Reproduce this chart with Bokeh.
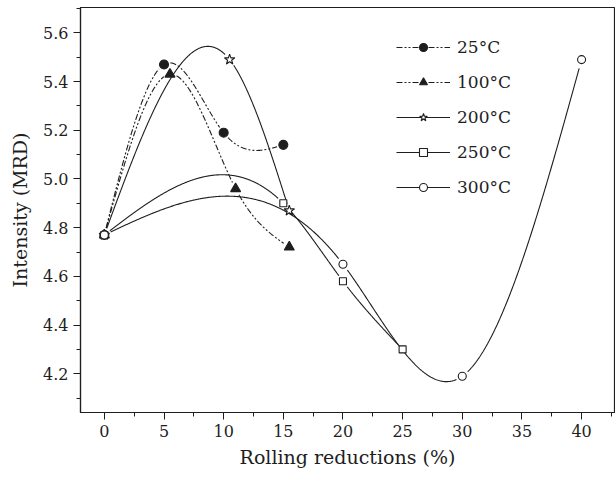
import numpy as np
from bokeh.plotting import figure
from bokeh.models import FixedTicker, Legend, LegendItem, Range1d
from bokeh.embed import file_html
from bokeh.resources import INLINE

# ---- data ----
x_25 = [0, 5, 10, 15]
y_25 = [4.77, 5.47, 5.19, 5.14]

x_100 = [0, 5.5, 11, 15.5]
y_100 = [4.77, 5.43, 4.96, 4.72]

x_200 = [0, 10.5, 15.5]
y_200 = [4.77, 5.49, 4.87]

x_250 = [0, 15, 20, 25]
y_250 = [4.77, 4.90, 4.58, 4.30]

x_300 = [0, 20, 30, 40]
y_300 = [4.77, 4.65, 4.19, 5.49]

series_labels = ["25°C", "100°C", "200°C", "250°C", "300°C"]

x_ticks = [0, 5, 10, 15, 20, 25, 30, 35, 40]
y_ticks = [4.2, 4.4, 4.6, 4.8, 5.0, 5.2, 5.4, 5.6]
y_tick_labels = ["4.2", "4.4", "4.6", "4.8", "5.0", "5.2", "5.4", "5.6"]

# ---- layout ----
W, H = 615, 477
BL, BR, BT, BB = 80, 1, 7, 65
X0, X1 = -2.0, 42.76
Y0, Y1 = 4.041, 5.704
FW, FH = W - BL - BR, H - BT - BB
SX, SY = FW / (X1 - X0), FH / (Y1 - Y0)

FONT = "DejaVu Serif"
INK = "#1e1e1e"


def natural_spline(xs, ys, n=600):
    x = np.asarray(xs, float)
    y = np.asarray(ys, float)
    m = len(x)
    h = np.diff(x)
    A = np.zeros((m, m))
    r = np.zeros(m)
    A[0, 0] = 1
    A[-1, -1] = 1
    for i in range(1, m - 1):
        A[i, i - 1] = h[i - 1]
        A[i, i] = 2 * (h[i - 1] + h[i])
        A[i, i + 1] = h[i]
        r[i] = 6 * ((y[i + 1] - y[i]) / h[i] - (y[i] - y[i - 1]) / h[i - 1])
    M = np.linalg.solve(A, r)
    xx = np.linspace(x[0], x[-1], n)
    k = np.clip(np.searchsorted(x, xx, side="right") - 1, 0, m - 2)
    xa, xb, hh = x[k], x[k + 1], h[k]
    yy = (M[k] * (xb - xx) ** 3 / (6 * hh) + M[k + 1] * (xx - xa) ** 3 / (6 * hh)
          + (y[k] / hh - M[k] * hh / 6) * (xb - xx)
          + (y[k + 1] / hh - M[k + 1] * hh / 6) * (xx - xa))
    # leave small gaps around the markers (as in the original)
    gap = 6.5
    mask = np.zeros_like(xx, dtype=bool)
    for px, py in zip(x, y):
        d = np.hypot((xx - px) * SX, (yy - py) * SY)
        mask |= d < gap
    yy = yy.copy()
    yy[mask] = np.nan
    return xx, yy


p = figure(width=W, height=H, output_backend="svg", toolbar_location=None,
           x_range=Range1d(X0, X1), y_range=Range1d(Y0, Y1),
           min_border_left=BL, min_border_right=BR,
           min_border_top=BT, min_border_bottom=BB)
p.xgrid.visible = False
p.ygrid.visible = False
p.outline_line_color = INK
p.outline_line_width = 1.2
p.background_fill_color = "white"
p.border_fill_color = "white"

p.xaxis.ticker = FixedTicker(ticks=x_ticks,
                             minor_ticks=[t + 2.5 for t in x_ticks])
p.yaxis.ticker = FixedTicker(ticks=y_ticks,
                             minor_ticks=[round(t - 0.1, 2) for t in y_ticks] + [5.7])
p.yaxis.major_label_overrides = {t: l for t, l in zip(y_ticks, y_tick_labels)}

for ax in (p.xaxis[0], p.yaxis[0]):
    ax.axis_line_color = INK
    ax.axis_line_width = 1.2
    ax.major_tick_line_color = INK
    ax.minor_tick_line_color = INK
    ax.major_tick_out = 7
    ax.major_tick_in = 0
    ax.minor_tick_out = 4
    ax.minor_tick_in = 0
    ax.major_label_text_font = FONT
    ax.major_label_text_font_size = "16px"
    ax.major_label_text_color = INK
    ax.axis_label_text_font = FONT
    ax.axis_label_text_font_size = "19px"
    ax.axis_label_text_font_style = "normal"
    ax.axis_label_text_color = INK
    ax.major_label_standoff = 5

p.xaxis.axis_label = "Rolling reductions (%)"
p.yaxis.axis_label = "Intensity (MRD)"
p.xaxis.axis_label_standoff = 6
p.yaxis.axis_label_standoff = 9

dashdotdot = "6 2 2 2 2 2"
series = [
    (x_25, y_25, dashdotdot, "circle", 9, INK),
    (x_100, y_100, dashdotdot, "triangle", 10, INK),
    (x_200, y_200, "solid", "star", 11, "white"),
    (x_250, y_250, "solid", "square", 7, "white"),
    (x_300, y_300, "solid", "circle", 8, "white"),
]

line_rs = []
for xs, ys, dash, mk, sz, fill in series:
    cx, cy = natural_spline(xs, ys)
    lr = p.line(cx, cy, line_color=INK, line_width=1.1, line_dash=dash)
    line_rs.append(lr)

mark_rs = []
for xs, ys, dash, mk, sz, fill in series:
    mr = p.scatter(xs, ys, marker=mk, size=sz, line_color=INK,
                   line_width=1.1, fill_color=fill)
    mark_rs.append(mr)

items = [LegendItem(label=lab, renderers=[lr, mr])
         for lab, lr, mr in zip(series_labels, line_rs, mark_rs)]
legend = Legend(items=items, location=(316, 215),
                glyph_width=54, glyph_height=20, label_height=20,
                spacing=15, padding=0, margin=0, label_standoff=7,
                label_text_font=FONT, label_text_font_size="17px",
                label_text_color=INK,
                border_line_alpha=0, background_fill_alpha=0)
p.add_layout(legend, "center")

open("out.html", "w").write(file_html(p, INLINE))
